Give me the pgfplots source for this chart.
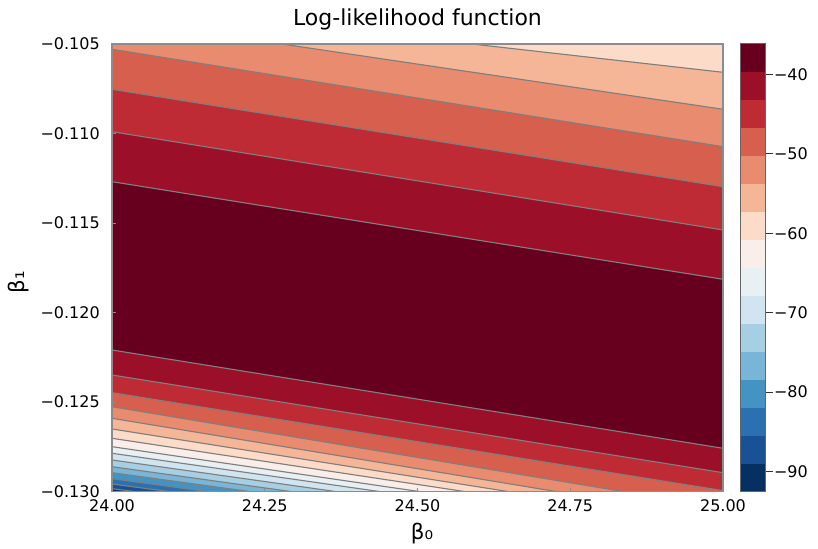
\documentclass[border=0pt]{standalone}
\usepackage{fontspec}
\setmainfont{DejaVu Sans}
\usepackage{pgfplots}
\pgfplotsset{compat=1.18}
\definecolor{c1}{HTML}{67001F}
\definecolor{c2}{HTML}{9B0F28}
\definecolor{c3}{HTML}{BE2B35}
\definecolor{c4}{HTML}{D6604D}
\definecolor{c5}{HTML}{E88B6E}
\definecolor{c6}{HTML}{F5B697}
\definecolor{c7}{HTML}{FCDBC8}
\definecolor{c8}{HTML}{F9EEE9}
\definecolor{c9}{HTML}{E8F0F4}
\definecolor{c10}{HTML}{D1E5F0}
\definecolor{c11}{HTML}{A7CFE4}
\definecolor{c12}{HTML}{79B5D7}
\definecolor{c13}{HTML}{4393C3}
\definecolor{c14}{HTML}{2B71B1}
\definecolor{c15}{HTML}{185294}
\definecolor{c16}{HTML}{053061}
\definecolor{framegray}{HTML}{8C8C8C}
\definecolor{linegray}{HTML}{7F7F7F}
\definecolor{cbgray}{HTML}{666666}
\definecolor{cbtick}{HTML}{333333}
\pgfplotsset{
  band/.style={fill=#1, draw=none, forget plot},
  cline/.style={draw=linegray, line width=0.85pt, forget plot},
}
\begin{document}
\begin{tikzpicture}[x=1pt,y=1pt]
\useasboundingbox (0,0) rectangle (613.5,411.75);
\fill[white] (0,0) rectangle (613.5,411.75);
\begin{axis}[
  at={(84pt,42.975pt)}, anchor=south west, scale only axis,
  width=458.25pt, height=335.775pt,
  xmin=24, xmax=25, ymin=-0.13, ymax=-0.105,
  axis on top,
  axis line style={draw=framegray, line width=0.9pt},
  tick align=inside, xtick pos=bottom, ytick pos=left,
  major tick length=3pt,
  tick style={draw=framegray, line width=0.6pt},
  xtick={24,24.25,24.5,24.75,25},
  xticklabels={24.00,24.25,24.50,24.75,25.00},
  ytick={-0.13,-0.125,-0.12,-0.115,-0.11,-0.105},
  yticklabels={−0.130,−0.125,−0.120,−0.115,−0.110,−0.105},
  ticklabel style={font=\fontsize{12}{14}\selectfont, inner sep=0pt},
  xticklabel style={yshift=-6pt},
  yticklabel style={xshift=-9pt},
]
% background: lowest band
\addplot[band=c16] coordinates {(24,-0.14) (25,-0.14) (25,-0.09) (24,-0.09)} -- cycle;
% superlevel sets, lowest level first
\addplot[band=c15] coordinates {(24,-0.129832) (25,-0.134266) (25,-0.09) (24,-0.09)} -- cycle;
\addplot[band=c14] coordinates {(24,-0.129570) (25,-0.134109) (25,-0.09) (24,-0.09)} -- cycle;
\addplot[band=c13] coordinates {(24,-0.129274) (25,-0.133880) (25,-0.09) (24,-0.09)} -- cycle;
\addplot[band=c12] coordinates {(24,-0.128939) (25,-0.133612) (25,-0.09) (24,-0.09)} -- cycle;
\addplot[band=c11] coordinates {(24,-0.128604) (25,-0.133344) (25,-0.09) (24,-0.09)} -- cycle;
\addplot[band=c10] coordinates {(24,-0.128229) (25,-0.133043) (25,-0.09) (24,-0.09)} -- cycle;
\addplot[band=c9] coordinates {(24,-0.127855) (25,-0.132736) (25,-0.09) (24,-0.09)} -- cycle;
\addplot[band=c8] coordinates {(24,-0.127487) (25,-0.132468) (25,-0.09) (24,-0.09)} -- cycle;
\addplot[band=c7] coordinates {(24,-0.127018) (25,-0.132172) (25,-0.09) (24,-0.09)} -- cycle;
\addplot[band=c6] coordinates {(24,-0.126498) (25,-0.131887) (25,-0.106580) (24,-0.102738)} -- cycle;
\addplot[band=c5] coordinates {(24,-0.125901) (25,-0.131529) (25,-0.108646) (24,-0.103598)} -- cycle;
\addplot[band=c4] coordinates {(24,-0.125253) (25,-0.130916) (25,-0.110735) (24,-0.105296)} -- cycle;
\addplot[band=c3] coordinates {(24,-0.124471) (25,-0.129940) (25,-0.112968) (24,-0.107530)} -- cycle;
\addplot[band=c2] coordinates {(24,-0.123483) (25,-0.128938) (25,-0.115386) (24,-0.109897)} -- cycle;
\addplot[band=c1] coordinates {(24,-0.122087) (25,-0.127576) (25,-0.118139) (24,-0.112689)} -- cycle;
% contour lines
\addplot[cline] coordinates {(24,-0.112689) (25,-0.118139)};
\addplot[cline] coordinates {(24,-0.109897) (25,-0.115386)};
\addplot[cline] coordinates {(24,-0.107530) (25,-0.112968)};
\addplot[cline] coordinates {(24,-0.105296) (25,-0.110735)};
\addplot[cline] coordinates {(24,-0.103598) (25,-0.108646)};
\addplot[cline] coordinates {(24,-0.102738) (25,-0.106580)};
\addplot[cline] coordinates {(24,-0.122087) (25,-0.127576)};
\addplot[cline] coordinates {(24,-0.123483) (25,-0.128938)};
\addplot[cline] coordinates {(24,-0.124471) (25,-0.129940)};
\addplot[cline] coordinates {(24,-0.125253) (25,-0.130916)};
\addplot[cline] coordinates {(24,-0.125901) (25,-0.131529)};
\addplot[cline] coordinates {(24,-0.126498) (25,-0.131887)};
\addplot[cline] coordinates {(24,-0.127018) (25,-0.132172)};
\addplot[cline] coordinates {(24,-0.127487) (25,-0.132468)};
\addplot[cline] coordinates {(24,-0.127855) (25,-0.132736)};
\addplot[cline] coordinates {(24,-0.128229) (25,-0.133043)};
\addplot[cline] coordinates {(24,-0.128604) (25,-0.133344)};
\addplot[cline] coordinates {(24,-0.128939) (25,-0.133612)};
\addplot[cline] coordinates {(24,-0.129274) (25,-0.133880)};
\addplot[cline] coordinates {(24,-0.129570) (25,-0.134109)};
\addplot[cline] coordinates {(24,-0.129832) (25,-0.134266)};
\end{axis}
% colour bar
\begin{axis}[
  at={(555.4pt,42.975pt)}, anchor=south west, scale only axis,
  width=18.4pt, height=336.15pt,
  xmin=0, xmax=1, ymin=-92.525, ymax=-36.125,
  axis on top,
  axis line style={draw=cbgray, line width=0.8pt},
  xtick=\empty,
  ytick={-90,-80,-70,-60,-50,-40},
  yticklabels={−90,−80,−70,−60,−50,−40},
  ytick pos=right, yticklabel pos=right,
  tick align=outside, major tick length=6pt,
  tick style={draw=cbtick, line width=0.8pt},
  ticklabel style={font=\fontsize{12}{14}\selectfont, inner sep=0pt},
  yticklabel style={xshift=0.5pt},
]
\addplot[band=c16] coordinates {(0,-92.525) (1,-92.525) (1,-89.000) (0,-89.000)} -- cycle;
\addplot[band=c15] coordinates {(0,-89.000) (1,-89.000) (1,-85.475) (0,-85.475)} -- cycle;
\addplot[band=c14] coordinates {(0,-85.475) (1,-85.475) (1,-81.950) (0,-81.950)} -- cycle;
\addplot[band=c13] coordinates {(0,-81.950) (1,-81.950) (1,-78.425) (0,-78.425)} -- cycle;
\addplot[band=c12] coordinates {(0,-78.425) (1,-78.425) (1,-74.900) (0,-74.900)} -- cycle;
\addplot[band=c11] coordinates {(0,-74.900) (1,-74.900) (1,-71.375) (0,-71.375)} -- cycle;
\addplot[band=c10] coordinates {(0,-71.375) (1,-71.375) (1,-67.850) (0,-67.850)} -- cycle;
\addplot[band=c9] coordinates {(0,-67.850) (1,-67.850) (1,-64.325) (0,-64.325)} -- cycle;
\addplot[band=c8] coordinates {(0,-64.325) (1,-64.325) (1,-60.800) (0,-60.800)} -- cycle;
\addplot[band=c7] coordinates {(0,-60.800) (1,-60.800) (1,-57.275) (0,-57.275)} -- cycle;
\addplot[band=c6] coordinates {(0,-57.275) (1,-57.275) (1,-53.750) (0,-53.750)} -- cycle;
\addplot[band=c5] coordinates {(0,-53.750) (1,-53.750) (1,-50.225) (0,-50.225)} -- cycle;
\addplot[band=c4] coordinates {(0,-50.225) (1,-50.225) (1,-46.700) (0,-46.700)} -- cycle;
\addplot[band=c3] coordinates {(0,-46.700) (1,-46.700) (1,-43.175) (0,-43.175)} -- cycle;
\addplot[band=c2] coordinates {(0,-43.175) (1,-43.175) (1,-39.650) (0,-39.650)} -- cycle;
\addplot[band=c1] coordinates {(0,-39.650) (1,-39.650) (1,-36.125) (0,-36.125)} -- cycle;
\end{axis}
\node[font=\fontsize{16.5}{19}\selectfont, anchor=base] at (313.1,392.25) {Log-likelihood function};
\node[font=\fontsize{16}{19}\selectfont, anchor=base] at (316.5,6.75) {β₀};
\node[font=\fontsize{16}{19}\selectfont, anchor=base, rotate=90] at (18.75,200.25) {β₁};
\end{tikzpicture}
\end{document}
